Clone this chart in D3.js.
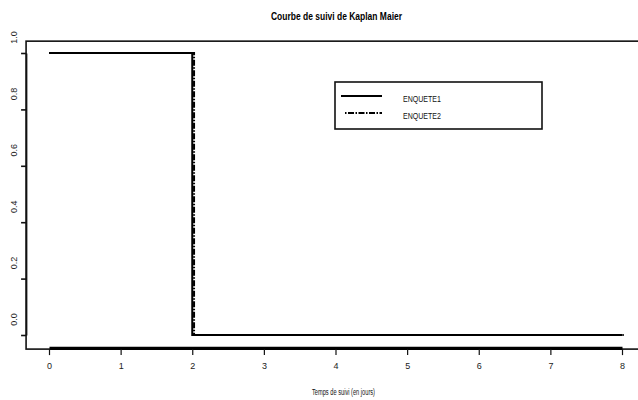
<!DOCTYPE html>
<html>
<head>
<meta charset="utf-8">
<script src="https://cdn.jsdelivr.net/npm/d3@7"></script>
<style>
  body { margin: 0; background: #fff; }
  svg { display: block; font-family: "Liberation Sans", Arial, sans-serif; }
</style>
</head>
<body>
<svg class="km-chart" width="638" height="400"></svg>
<script>
// data
const times = [0, 2, 8];
const enquete1 = [1, 0, 0];
const enquete2 = [1, 0, 0];
const seriesNames = ['ENQUETE1', 'ENQUETE2'];
const xTicks = [0, 1, 2, 3, 4, 5, 6, 7, 8];
const yTicks = [0, 0.2, 0.4, 0.6, 0.8, 1];

const chart = d3.select('.km-chart');

const xScale = d3.scaleLinear().domain([0, 8]).range([49, 622]);
const yScale = d3.scaleLinear().domain([0, 1]).range([335, 53]);

// plot frame (R style, extends 4%)
const xLo = -0.32, xHi = 8.32, yLo = -0.05, yHi = 1.042;
chart.append('rect')
  .attr('x', xScale(xLo))
  .attr('y', yScale(yHi))
  .attr('width', xScale(xHi) - xScale(xLo))
  .attr('height', yScale(yLo) - yScale(yHi))
  .attr('fill', 'none')
  .attr('stroke', '#111')
  .attr('stroke-width', 1.6);

/*
 ** X-axis
 */
const xAxisGroup = chart.append('g')
  .attr('transform', `translate(0, ${yScale(yLo)})`)
  .call(d3.axisBottom(xScale).tickValues(xTicks).tickSize(6).tickSizeOuter(0).tickFormat(d3.format('d')));

xAxisGroup.select('.domain')
  .attr('stroke', '#000')
  .attr('stroke-width', 3.2)
  .attr('transform', 'translate(0, -1.3)');
xAxisGroup.selectAll('.tick line').attr('stroke', '#111').attr('stroke-width', 1.2);
xAxisGroup.selectAll('.tick text')
  .attr('y', 14)
  .attr('fill', '#222')
  .style('font-size', '9px');

/*
 ** Y-axis
 */
const yAxisGroup = chart.append('g')
  .attr('transform', `translate(${xScale(xLo)}, 0)`)
  .call(d3.axisLeft(yScale).tickValues(yTicks).tickSize(5).tickSizeOuter(0).tickFormat(d3.format('.1f')));

yAxisGroup.select('.domain').attr('stroke', '#111').attr('stroke-width', 1.6);
yAxisGroup.selectAll('.tick line').attr('stroke', '#111').attr('stroke-width', 1.6);
yAxisGroup.selectAll('.tick text')
  .attr('x', 0)
  .attr('dy', 0)
  .attr('text-anchor', 'middle')
  .attr('transform', 'translate(-9, -16) rotate(-90)')
  .attr('fill', '#222')
  .style('font-size', '9px');

/*
 ** Curves
 */
const kmLine = d3.line()
  .x(d => xScale(d[0]))
  .y(d => yScale(d[1]))
  .curve(d3.curveStepAfter);

chart.append('path')
  .attr('class', 'km-1')
  .attr('d', kmLine(times.map((t, i) => [t, enquete1[i]])))
  .attr('fill', 'none')
  .attr('stroke', '#000')
  .attr('stroke-width', 2);

chart.append('path')
  .attr('class', 'km-2')
  .attr('d', kmLine(times.map((t, i) => [t, enquete2[i]])))
  .attr('fill', 'none')
  .attr('stroke', '#000')
  .attr('stroke-width', 2)
  .attr('stroke-dasharray', '1.5 1.5 6 1.5')
  .attr('transform', 'translate(1.8, 0)');

/*
 ** Titles
 */
chart.append('text')
  .text('Courbe de suivi de Kaplan Maier')
  .attr('x', 271)
  .attr('y', 20)
  .attr('textLength', 131)
  .attr('lengthAdjust', 'spacingAndGlyphs')
  .attr('font-weight', 'bold')
  .style('font-size', '10px')
  .attr('fill', '#000');

chart.append('text')
  .text('Temps de suivi (en jours)')
  .attr('x', 312)
  .attr('y', 395)
  .attr('textLength', 63)
  .attr('lengthAdjust', 'spacingAndGlyphs')
  .style('font-size', '8.5px')
  .attr('fill', '#111');

/*
 ** Legend
 */
const legend = chart.append('g').attr('class', 'legend');
legend.append('rect')
  .attr('x', 335)
  .attr('y', 82)
  .attr('width', 207)
  .attr('height', 47)
  .attr('fill', '#fff')
  .attr('stroke', '#111')
  .attr('stroke-width', 1.6);

const legendItem = legend.selectAll('g.legend-item')
  .data(seriesNames)
  .enter()
  .append('g')
  .attr('class', 'legend-item')
  .attr('transform', (d, i) => `translate(0, ${96 + 17 * i})`);

legendItem.append('line')
  .attr('x1', (d, i) => i === 0 ? 341 : 345)
  .attr('x2', 382)
  .attr('stroke', '#000')
  .attr('stroke-width', 2)
  .attr('stroke-dasharray', (d, i) => i === 0 ? null : '1.5 1.5 6 1.5');

legendItem.append('text')
  .text(d => d)
  .attr('x', 403)
  .attr('y', 6)
  .attr('textLength', 38)
  .attr('lengthAdjust', 'spacingAndGlyphs')
  .style('font-size', '8.5px')
  .attr('fill', '#111');
</script>
</body>
</html>
